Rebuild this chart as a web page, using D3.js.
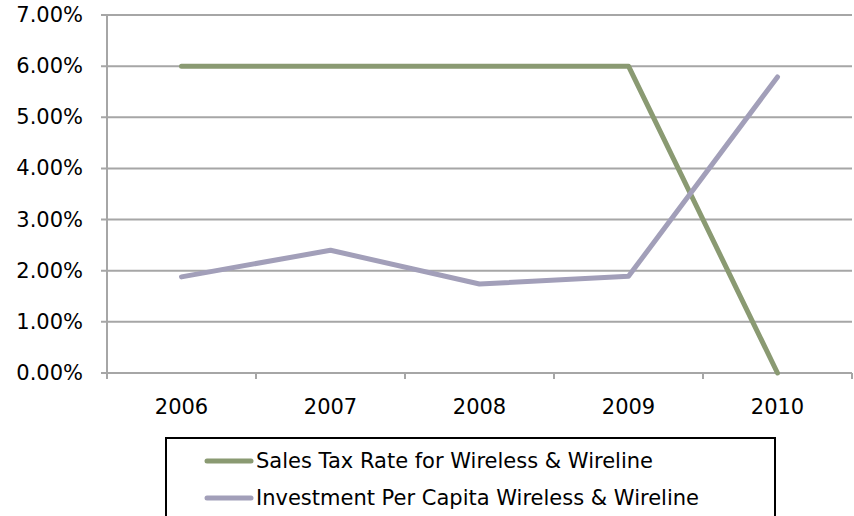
<!DOCTYPE html>
<html>
<head>
  <meta charset="utf-8">
  <title>Sales Tax vs Investment</title>
  <script src="https://cdn.jsdelivr.net/npm/d3@7"></script>
  <style>
    body { margin: 0; background: #fff; }
    text { font-family: "DejaVu Sans", sans-serif; fill: #000; }
  </style>
</head>
<body>
<div id="container"></div>
<script>
  var years = ["2006", "2007", "2008", "2009", "2010"];
  var salesTax = [6.0, 6.0, 6.0, 6.0, 0.0];
  var investment = [1.88, 2.40, 1.74, 1.89, 5.79];
  var yTicks = [0, 1, 2, 3, 4, 5, 6, 7];
  var seriesNames = ["Sales Tax Rate for Wireless & Wireline", "Investment Per Capita Wireless & Wireline"];
  var seriesColors = ["#8a9a72", "#a29fb9"];

  var width = 854, height = 516;
  var plotLeft = 107, plotRight = 852, plotTop = 15, plotBottom = 373;

  var svg = d3.select("#container").append("svg")
    .attr("width", width).attr("height", height);

  var x = d3.scaleBand().domain(years).range([plotLeft, plotRight]);
  var y = d3.scaleLinear().domain([0, 7]).range([plotBottom, plotTop]);

  // gridlines
  svg.append("g").selectAll("line").data(yTicks).enter().append("line")
    .attr("x1", plotLeft - 6).attr("x2", plotRight)
    .attr("y1", function(d){ return y(d); }).attr("y2", function(d){ return y(d); })
    .attr("stroke", "#a6a6a6").attr("stroke-width", 2);

  // y axis line
  svg.append("line").attr("x1", plotLeft).attr("x2", plotLeft).attr("y1", plotTop).attr("y2", plotBottom + 5)
    .attr("stroke", "#a6a6a6").attr("stroke-width", 2);

  // x ticks at band edges
  var edges = years.map(function(d){ return x(d); }).concat([plotRight]);
  svg.append("g").selectAll("line").data(edges).enter().append("line")
    .attr("x1", function(d){ return d; }).attr("x2", function(d){ return d; })
    .attr("y1", plotBottom).attr("y2", plotBottom + 6)
    .attr("stroke", "#a6a6a6").attr("stroke-width", 2);

  // y labels
  svg.append("g").selectAll("text").data(yTicks).enter().append("text")
    .attr("x", 83).attr("y", function(d){ return y(d) + 7; })
    .attr("text-anchor", "end").attr("font-size", 21)
    .text(function(d){ return d.toFixed(2) + "%"; });

  // x labels
  svg.append("g").selectAll("text").data(years).enter().append("text")
    .attr("x", function(d){ return x(d) + x.bandwidth() / 2; }).attr("y", 414)
    .attr("text-anchor", "middle").attr("font-size", 21)
    .text(function(d){ return d; });

  var line = d3.line()
    .x(function(d, i){ return x(years[i]) + x.bandwidth() / 2; })
    .y(function(d){ return y(d); });

  [salesTax, investment].forEach(function(s, i){
    svg.append("path").datum(s)
      .attr("d", line)
      .attr("fill", "none")
      .attr("stroke", seriesColors[i])
      .attr("stroke-width", 5)
      .attr("stroke-linecap", "round")
      .attr("stroke-linejoin", "round");
  });

  // legend
  var legend = svg.append("g").attr("id", "legend");
  legend.append("rect").attr("x", 166).attr("y", 438).attr("width", 609).attr("height", 100)
    .attr("fill", "none").attr("stroke", "#000").attr("stroke-width", 2);
  seriesNames.forEach(function(name, i){
    var ly = 461 + i * 37;
    legend.append("line").attr("x1", 207).attr("x2", 251).attr("y1", ly).attr("y2", ly)
      .attr("stroke", seriesColors[i]).attr("stroke-width", 5).attr("stroke-linecap", "round");
    legend.append("text").attr("x", 256).attr("y", ly + 7).attr("font-size", 21).text(name);
  });
</script>
</body>
</html>
